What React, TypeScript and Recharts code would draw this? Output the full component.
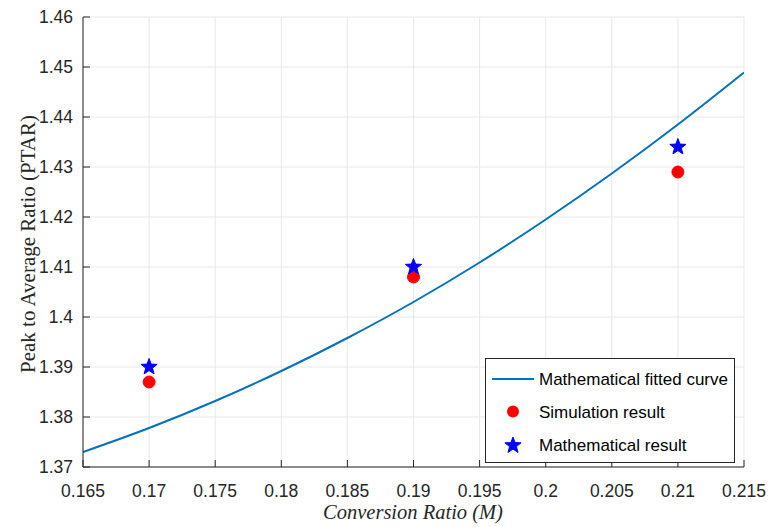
import React from "react";
import {
  ComposedChart,
  Line,
  Scatter,
  XAxis,
  YAxis,
  CartesianGrid,
  Legend,
  Label,
} from "recharts";

// ---- data ----
const curveX = [0.165, 0.17, 0.175, 0.18, 0.185, 0.19, 0.195, 0.2, 0.205, 0.21, 0.215];
const curveY = [1.373, 1.3778, 1.3832, 1.3892, 1.3958, 1.403, 1.4109, 1.4195, 1.4287, 1.4385, 1.4489];
const pointX = [0.17, 0.19, 0.21];
const simulationY = [1.387, 1.408, 1.429];
const mathematicalY = [1.39, 1.41, 1.434];
const xTicks = [0.165, 0.17, 0.175, 0.18, 0.185, 0.19, 0.195, 0.2, 0.205, 0.21, 0.215];
const yTicks = [1.37, 1.38, 1.39, 1.4, 1.41, 1.42, 1.43, 1.44, 1.45, 1.46];

const curveData = curveX.map((x, i) => ({ x, y: curveY[i] }));
const simData = pointX.map((x, i) => ({ x, y: simulationY[i] }));
const mathData = pointX.map((x, i) => ({ x, y: mathematicalY[i] }));

const AXIS = "#262626";
const TICK_FONT = "'Liberation Sans', Arial, Helvetica, sans-serif";
const SERIF = "'Liberation Serif', 'Times New Roman', serif";
const TL = 7;

const fmt = (v: number) => String(Number(v.toFixed(3)));

const BottomTick = (props: any) => {
  const { x, y, payload } = props;
  return (
    <g>
      <line x1={x} x2={x} y1={y} y2={y - TL} stroke={AXIS} strokeWidth={1} />
      <text x={x} y={y + 29.5} textAnchor="middle" fontFamily={TICK_FONT} fontSize={17.5} fill={AXIS}>
        {fmt(payload.value)}
      </text>
    </g>
  );
};

const TopTick = (props: any) => {
  const { x, y } = props;
  return <line x1={x} x2={x} y1={y} y2={y + TL} stroke={AXIS} strokeWidth={1} />;
};

const LeftTick = (props: any) => {
  const { x, y, payload } = props;
  return (
    <g>
      <line x1={x} x2={x + TL} y1={y} y2={y} stroke={AXIS} strokeWidth={1} />
      <text x={x - 10} y={y + 6} textAnchor="end" fontFamily={TICK_FONT} fontSize={17.5} fill={AXIS}>
        {fmt(payload.value)}
      </text>
    </g>
  );
};

const RightTick = (props: any) => {
  const { x, y } = props;
  return <line x1={x} x2={x - TL} y1={y} y2={y} stroke={AXIS} strokeWidth={1} />;
};

const starPoints = (cx: number, cy: number, R: number, r: number) => {
  const pts: string[] = [];
  for (let i = 0; i < 10; i++) {
    const rad = i % 2 === 0 ? R : r;
    const a = -Math.PI / 2 + (i * Math.PI) / 5;
    pts.push(`${cx + rad * Math.cos(a)},${cy + rad * Math.sin(a)}`);
  }
  return pts.join(" ");
};

const StarShape = (props: any) => {
  const { cx, cy } = props;
  return <polygon points={starPoints(cx, cy, 8.5, 3.6)} fill="#0000ff" stroke="#0000ff" strokeWidth={1} />;
};

const CircleShape = (props: any) => {
  const { cx, cy } = props;
  return <circle cx={cx} cy={cy} r={6} fill="#ff0000" stroke="#ff0000" />;
};

const LegendBox = () => (
  <div
    style={{
      width: 250,
      height: 105,
      boxSizing: "border-box",
      border: `1px solid ${AXIS}`,
      background: "#fff",
      position: "relative",
      fontFamily: TICK_FONT,
      fontSize: 17,
      color: "#000",
    }}
  >
    <svg width={250} height={105} style={{ position: "absolute", left: -1, top: -1 }}>
      <line x1={7} x2={49} y1={21} y2={21} stroke="#0072BD" strokeWidth={2} />
      <circle cx={28} cy={53.5} r={6} fill="#ff0000" />
      <polygon points={starPoints(28, 87.5, 8.5, 3.6)} fill="#0000ff" stroke="#0000ff" />
      <text x={54} y={27} fontFamily={TICK_FONT} fontSize={17} fill="#000">Mathematical fitted curve</text>
      <text x={54} y={60} fontFamily={TICK_FONT} fontSize={17} fill="#000">Simulation result</text>
      <text x={54} y={93} fontFamily={TICK_FONT} fontSize={17} fill="#000">Mathematical result</text>
    </svg>
  </div>
);

export default function App() {
  return (
    <div style={{ position: "absolute", left: 0, top: 0, background: "#fff" }}>
      <ComposedChart width={769} height={527} margin={{ top: 17, right: 25, left: 0, bottom: 0 }}>
        <CartesianGrid stroke="#e8e8e8" strokeWidth={1} />
        <XAxis
          type="number"
          dataKey="x"
          domain={[0.165, 0.215]}
          ticks={xTicks}
          interval={0}
          allowDataOverflow
          height={60}
          tickSize={0}
          tickMargin={0}
          tickLine={false}
          axisLine={{ stroke: AXIS, strokeWidth: 1 }}
          tick={<BottomTick />}
        >
          <Label
            content={() => (
              <text x={413} y={519} textAnchor="middle" fontFamily={SERIF} fontStyle="italic" fontSize={20.5} fill={AXIS}>
                Conversion Ratio (M)
              </text>
            )}
          />
        </XAxis>
        <XAxis
          xAxisId="top"
          orientation="top"
          type="number"
          dataKey="x"
          domain={[0.165, 0.215]}
          ticks={xTicks}
          interval={0}
          allowDataOverflow
          height={0}
          tickSize={0}
          tickMargin={0}
          tickLine={false}
          axisLine={{ stroke: AXIS, strokeWidth: 1 }}
          tick={<TopTick />}
        />
        <YAxis
          type="number"
          domain={[1.37, 1.46]}
          ticks={yTicks}
          interval={0}
          allowDataOverflow
          width={83}
          tickSize={0}
          tickMargin={0}
          tickLine={false}
          axisLine={{ stroke: AXIS, strokeWidth: 1 }}
          tick={<LeftTick />}
        >
          <Label
            content={() => (
              <text
                x={35}
                y={244}
                transform="rotate(-90 35 244)"
                textAnchor="middle"
                fontFamily={SERIF}
                fontSize={21}
                fill={AXIS}
              >
                Peak to Average Ratio (PTAR)
              </text>
            )}
          />
        </YAxis>
        <YAxis
          yAxisId="right"
          orientation="right"
          type="number"
          domain={[1.37, 1.46]}
          ticks={yTicks}
          interval={0}
          allowDataOverflow
          width={0}
          tickSize={0}
          tickMargin={0}
          tickLine={false}
          axisLine={{ stroke: AXIS, strokeWidth: 1 }}
          tick={<RightTick />}
        />
        <Line
          data={curveData}
          dataKey="y"
          type="monotone"
          stroke="#0072BD"
          strokeWidth={2}
          dot={false}
          activeDot={false}
          isAnimationActive={false}
          name="Mathematical fitted curve"
        />
        <Scatter data={simData} dataKey="y" shape={<CircleShape />} isAnimationActive={false} name="Simulation result" />
        <Scatter data={mathData} dataKey="y" shape={<StarShape />} isAnimationActive={false} name="Mathematical result" />
        <Legend
          layout="vertical"
          align="center"
          verticalAlign="middle"
          content={() => <LegendBox />}
          wrapperStyle={{ left: 485, top: 358, width: 250, height: 105 }}
        />
      </ComposedChart>
    </div>
  );
}
